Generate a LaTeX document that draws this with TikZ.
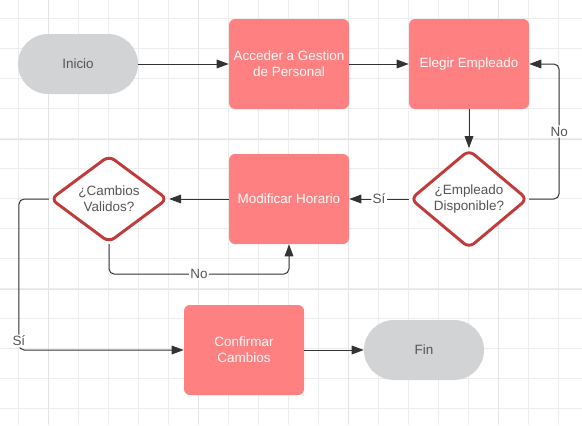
\documentclass[tikz,border=0pt]{standalone}
\usepackage{fontspec}
\setmainfont{Liberation Sans}
\usetikzlibrary{arrows.meta,shapes.geometric}
\definecolor{pinkbox}{HTML}{FF8080}
\definecolor{termgray}{HTML}{D2D3D5}
\definecolor{dborder}{HTML}{C23B3B}
\definecolor{gridc}{HTML}{EDEDED}
\definecolor{gridd}{HTML}{E4E4E4}
\definecolor{txtg}{HTML}{555555}
\definecolor{linec}{HTML}{333333}
\tikzset{
  procbox/.style={rectangle, fill=pinkbox, rounded corners=4.5pt, minimum width=90pt, minimum height=67.5pt, text=white!92!pink, align=center, inner sep=2pt},
  termbox/.style={rectangle, fill=termgray, rounded corners=22.5pt, minimum width=90pt, minimum height=45pt, text=txtg},
  decbox/.style={diamond, draw=dborder, line width=2.2pt, fill=white, rounded corners=5pt, minimum width=88pt, minimum height=65.5pt, inner sep=0pt, text=txtg, align=center},
  conn/.style={draw=linec, line width=0.75pt, rounded corners=4pt, -{Triangle[length=9pt,width=6.5pt]}},
  lbl/.style={fill=white, inner sep=1pt, text=txtg}
}
\begin{document}
\begin{tikzpicture}[x=0.75pt,y=-0.75pt, font=\fontsize{10.1}{11.8}\selectfont]
\useasboundingbox (0,0) rectangle (582,425);
\fill[white] (0,0) rectangle (582,425);
% grid
\foreach \i in {0,...,18} {\draw[gridc, line width=0.75pt] (18.5+30*\i,0) -- (18.5+30*\i,425);}
\foreach \i in {0,...,13} {\draw[gridc, line width=0.75pt] (0,18.5+30*\i) -- (582,18.5+30*\i);}
\foreach \i in {0,...,3} {\draw[gridd, line width=0.75pt] (48.5+150*\i,0) -- (48.5+150*\i,425);}
\foreach \i in {0,1,2} {\draw[gridd, line width=0.75pt] (0,139.5+150*\i) -- (582,139.5+150*\i);}
% nodes
\node[termbox] (ini) at (78,64) {Inicio};
\node[procbox] (acc) at (289,64) {Acceder a Gestion\\de Personal};
\node[procbox] (ele) at (469,64) {Elegir Empleado};
\node[decbox] (emp) at (469,199) {¿Empleado\\Disponible?};
\node[procbox] (mod) at (289,199) {Modificar Horario};
\node[decbox] (cam) at (109,199) {¿Cambios\\Validos?};
\node[procbox] (conf) at (244,350) {Confirmar\\Cambios};
\node[termbox] (fin) at (424,350) {Fin};
% connectors
\draw[conn] (ini) -- (acc);
\draw[conn] (acc) -- (ele);
\draw[conn] (ele) -- (emp);
\draw[conn] (emp.east) -- ++(30,0) |- node[lbl, pos=0.25] {No} (ele.east);
\draw[conn] (emp) -- node[lbl] {Sí} (mod);
\draw[conn] (mod) -- (cam);
\draw[conn] (cam.south) -- ++(0,30) -| node[lbl, pos=0.25] {No} (mod.south);
\draw[conn] (cam.west) -- ++(-30,0) |- node[lbl, pos=0.47] {Sí} (conf);
\draw[conn] (conf) -- (fin);
\end{tikzpicture}
\end{document}
